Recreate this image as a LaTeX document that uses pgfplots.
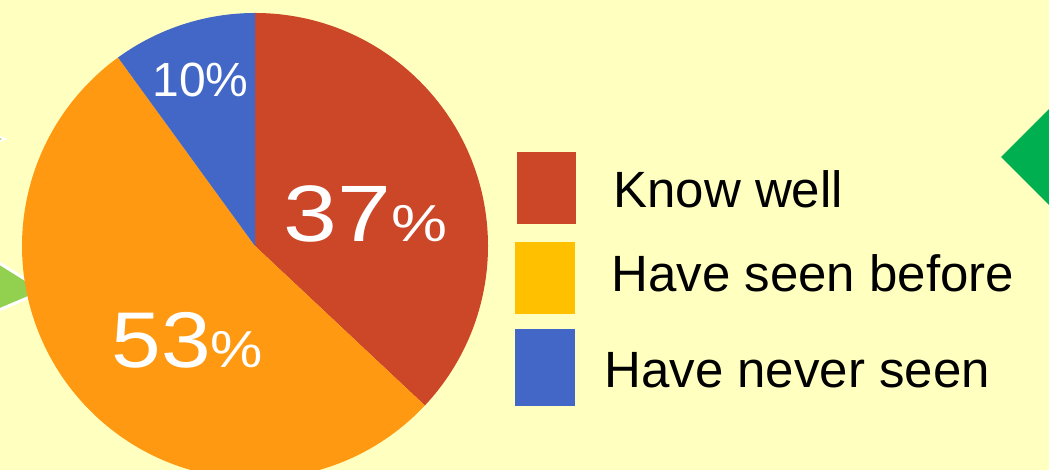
\documentclass[border=0pt]{standalone}
\usepackage{pgfplots}
\pgfplotsset{compat=1.18}
\usepackage{fontspec}
\setmainfont{Liberation Sans}
\newfontfamily\sA[FakeStretch=1.21]{Liberation Sans}
\newfontfamily\sB[FakeStretch=1.13]{Liberation Sans}
\definecolor{bgc}{RGB}{255,255,192}
\definecolor{cred}{RGB}{204,70,40}
\definecolor{corange}{RGB}{255,153,18}
\definecolor{cblue}{RGB}{66,103,199}
\definecolor{clegor}{RGB}{255,192,0}
\definecolor{lgreen}{RGB}{146,208,80}
\definecolor{dgreen}{RGB}{0,176,80}
\begin{document}
\begin{tikzpicture}
\def\vA{37}\def\vB{53}\def\vC{10}
\pgfmathsetmacro\aA{90-3.6*\vA}
\pgfmathsetmacro\aB{\aA-3.6*\vB}
\pgfmathsetmacro\aC{\aB-3.6*\vC}
\begin{axis}[name=ax, x=0.5pt, y=0.5pt, xmin=0, xmax=1049, ymin=0, ymax=470, hide axis, clip=true]
\begin{scope}
\clip (axis cs:0,0) rectangle (axis cs:1049,470);
\fill[bgc] (axis cs:0,0) rectangle (axis cs:1049,470);
% decorations
\filldraw[fill=lgreen, draw=white, line width=1.5pt] (axis cs:-20,219) -- (axis cs:44,179) -- (axis cs:-20,152) -- cycle;
\filldraw[fill=lgreen, draw=white, line width=1pt] (axis cs:-20,341) -- (axis cs:5,331) -- (axis cs:-20,321) -- cycle;
\fill[dgreen] (axis cs:1001,313) -- (axis cs:1070,382) -- (axis cs:1139,313) -- (axis cs:1070,244) -- cycle;
% pie
\fill[cred] (axis cs:255,224) -- ++(90:116.5pt) arc[start angle=90, end angle=\aA, radius=116.5pt] -- cycle;
\fill[corange] (axis cs:255,224) -- ++(\aA:116.5pt) arc[start angle=\aA, end angle=\aB, radius=116.5pt] -- cycle;
\fill[cblue] (axis cs:255,224) -- ++(\aB:116.5pt) arc[start angle=\aB, end angle=\aC, radius=116.5pt] -- cycle;
\end{scope}
% pie labels
\node[anchor=base west, inner sep=0pt, text=white] at (axis cs:283,228) {\sA\fontsize{40}{40}\selectfont 37\fontsize{26}{26}\selectfont\%};
\node[anchor=base west, inner sep=0pt, text=white] at (axis cs:111,102) {\sB\fontsize{39.5}{39.5}\selectfont 53\fontsize{26}{26}\selectfont\%};
\node[anchor=base west, inner sep=0pt, text=white] at (axis cs:152,373) {\fontsize{24}{24}\selectfont 10\%};
% legend
\fill[cred] (axis cs:517,246) rectangle (axis cs:576,318);
\fill[clegor] (axis cs:515,156) rectangle (axis cs:575,228);
\fill[cblue] (axis cs:515,64) rectangle (axis cs:575,141);
\node[anchor=base west, inner sep=0pt] at (axis cs:613,262) {\fontsize{25.5}{25.5}\selectfont Know well};
\node[anchor=base west, inner sep=0pt] at (axis cs:611,178) {\fontsize{25.5}{25.5}\selectfont Have seen before};
\node[anchor=base west, inner sep=0pt] at (axis cs:604,82) {\fontsize{25.5}{25.5}\selectfont Have never seen};
\end{axis}
\pgfresetboundingbox
\path (ax.south west) rectangle (ax.north east);
\end{tikzpicture}
\end{document}
